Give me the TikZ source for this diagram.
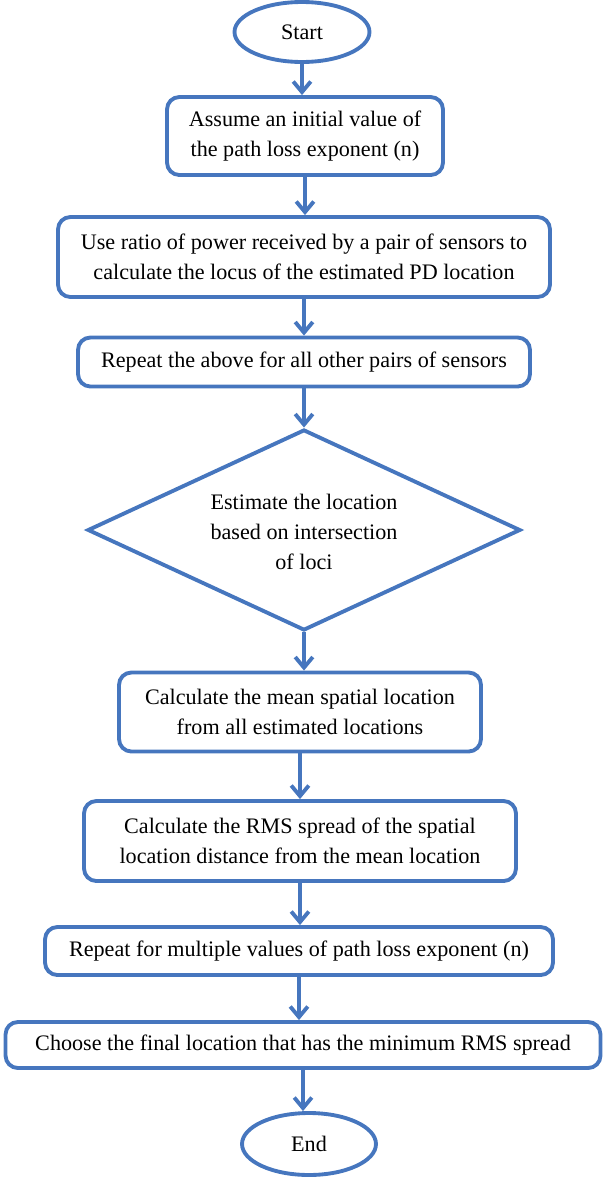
\documentclass[tikz,border=0pt]{standalone}
\usepackage{fontspec}
\setmainfont{Liberation Serif}
\usetikzlibrary{shapes.geometric,arrows.meta}
\definecolor{flowblue}{RGB}{70,118,190}
\begin{document}
\begin{tikzpicture}[x=0.02cm,y=-0.02cm,>={Straight Barb[length=6pt,width=10pt]},
  line width=2.2pt,
  box/.style={draw=flowblue,rounded corners=7pt,align=center,inner sep=2pt,
    font=\fontsize{12.6}{17}\selectfont},
  term/.style={draw=flowblue,ellipse,inner sep=0pt,font=\fontsize{12.6}{17}\selectfont},
  dec/.style={draw=flowblue,diamond,inner sep=0pt,align=center},
  link/.style={draw=flowblue,->}]
\useasboundingbox(0,0) rectangle (606,1177);
\node[term,minimum width=2.7cm,minimum height=1.2cm](start) at (302,32){Start};
\node[box,minimum width=5.52cm,minimum height=1.56cm](init) at (305,136)
  {Assume an initial value of\\the path loss exponent (n)};
\node[box,minimum width=9.84cm,minimum height=1.6cm](locus) at (304,257)
  {Use ratio of power received by a pair of sensors to\\calculate the locus of the estimated PD location};
\node[box,minimum width=9.04cm,minimum height=0.98cm](pairs) at (304,362)
  {Repeat the above for all other pairs of sensors};
\node[dec,minimum width=8.66cm,minimum height=4.02cm](est) at (304,530){};
\node[align=center,font=\fontsize{12.6}{17}\selectfont](esttext) at (304,532)
  {Estimate the location\\based on intersection\\of loci};
\node[box,minimum width=7.24cm,minimum height=1.58cm](mean) at (300,712)
  {Calculate the mean spatial location\\from all estimated locations};
\node[box,minimum width=8.64cm,minimum height=1.6cm](rms) at (300,841)
  {Calculate the RMS spread of the spatial\\location distance from the mean location};
\node[box,minimum width=10.16cm,minimum height=0.96cm](multi) at (299,951)
  {Repeat for multiple values of path loss exponent (n)};
\node[box,minimum width=11.9cm,minimum height=0.92cm](final) at (303,1045)
  {Choose the final location that has the minimum RMS spread};
\node[term,minimum width=2.68cm,minimum height=1.24cm](end) at (309,1144){End};

\draw[link](start)--(start|-init.north);
\draw[link](init)--(init|-locus.north);
\draw[link](locus)--(locus|-pairs.north);
\draw[link](pairs)--(pairs|-est.north);
\draw[link](est)--(est|-mean.north);
\draw[link](mean)--(mean|-rms.north);
\draw[link](rms)--(rms|-multi.north);
\draw[link](multi)--(multi|-final.north);
\draw[link](final)--(final|-end.north);
\end{tikzpicture}
\end{document}
